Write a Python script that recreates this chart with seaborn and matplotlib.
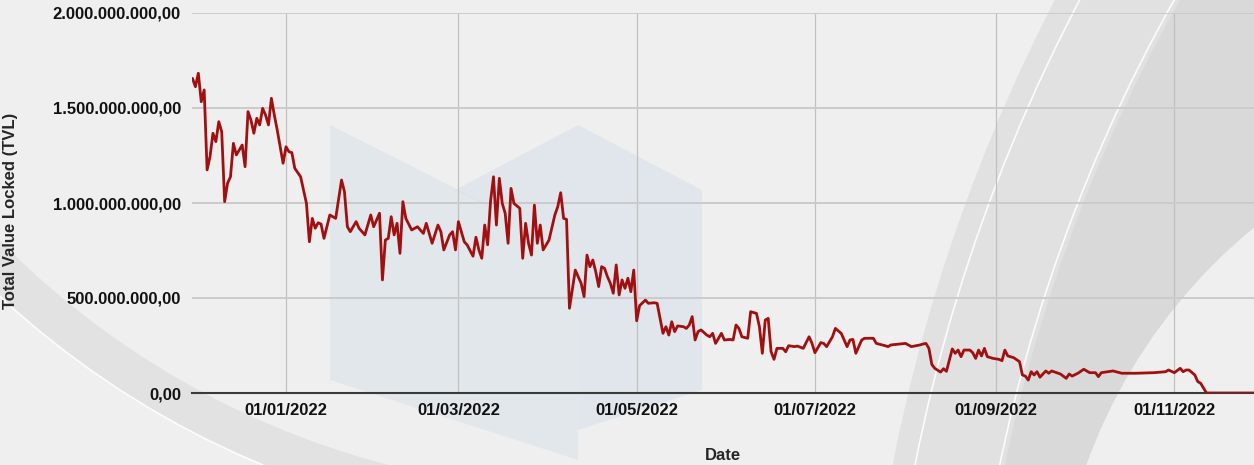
import pandas as pd
import matplotlib.pyplot as plt
import matplotlib.dates as mdates
from matplotlib.ticker import FuncFormatter, MultipleLocator
from matplotlib.patches import Polygon, Circle, Wedge, Arc
from matplotlib.transforms import Affine2D
import seaborn as sns

# ------------------------------------------------------------
# Data: TVL in millions, day offsets counted from 01/01/2022
# ------------------------------------------------------------
start_date = "2022-01-01"

day_offset = [
    -32, -31, -30, -29, -28, -27, -26, -25, -24, -23, -22, -21, -20, -19, -18,
    -17, -16, -15, -14, -13, -12, -11, -10, -9, -8, -7, -6, -5, -4, -3, -1,
    0, 1, 2, 3, 5, 6, 7, 8, 9, 10, 11, 12, 13, 15, 17, 19, 20, 21, 22, 24, 25,
    27, 29, 30, 32, 33, 34, 35, 36, 37, 38, 39, 40, 41, 43, 45, 47, 48, 50, 52,
    53, 54, 56, 57, 58, 59, 61, 62, 64, 65, 66, 67, 68, 69, 70, 71, 72, 73, 74,
    75, 76, 77, 78, 80, 81, 82, 83, 84, 85, 86, 87, 88, 90, 92, 93, 94, 95, 96,
    97, 99, 101, 102, 103, 104, 105, 106, 107, 108, 109, 110, 111, 112, 113,
    114, 115, 116, 117, 118, 119, 120, 121, 123, 124, 126, 127, 129, 130, 131,
    132, 133, 134, 136, 137, 138, 139, 140, 141, 142, 144, 145, 146, 147, 149,
    150, 152, 153, 154, 155, 156, 158, 159, 161, 162, 163, 164, 165, 166, 167,
    168, 170, 171, 172, 174, 175, 177, 179, 180, 181, 183, 184, 185, 187, 188,
    190, 192, 193, 194, 195, 197, 198, 201, 202, 205, 206, 207, 210, 212, 214,
    217, 218, 219, 220, 221, 222, 224, 225, 226, 228, 229, 230, 231, 232, 234,
    235, 236, 237, 238, 239, 240, 242, 244, 245, 246, 247, 249, 251, 252, 253,
    254, 255, 256, 257, 258, 260, 261, 262, 265, 267, 268, 269, 271, 273, 275,
    277, 278, 279, 283, 286, 291, 297, 301, 302, 304, 306, 307, 308, 309, 311,
    312, 313, 315, 333,
]

tvl_millions = [
    1656, 1612, 1683, 1533, 1595, 1174, 1244, 1367, 1323, 1428, 1375, 1007, 1104, 1138, 1314,
    1253, 1279, 1305, 1191, 1481, 1437, 1367, 1446, 1411, 1498, 1463, 1411, 1551, 1463, 1384, 1209,
    1296, 1270, 1265, 1183, 1138, 1068, 998, 796, 919, 867, 896, 889, 814, 937, 919, 1121, 1060, 875, 849, 902, 867,
    832, 937, 875, 946, 595, 805, 814, 928, 832, 893, 735, 1007, 919, 858, 875, 840, 893, 788, 884,
    849, 753, 832, 849, 753, 902, 796, 779, 720, 820, 753, 709, 884, 780, 1010, 1138, 884, 1130, 998,
    946, 788, 1077, 998, 972, 709, 893, 788, 726, 989, 788, 884, 753, 805, 937, 981, 1054, 919, 914,
    446, 647, 577, 507, 726, 665, 700, 638, 560, 665, 656, 612, 577, 525, 674,
    516, 595, 551, 604, 533, 647, 380, 460, 489, 472, 475, 472, 314, 349, 305,
    375, 323, 353, 349, 340, 358, 402, 279, 323, 332, 305, 296, 314, 261, 314,
    279, 282, 279, 358, 340, 296, 288, 428, 419, 349, 209, 384, 393, 217, 177,
    235, 235, 217, 249, 244, 247, 235, 296, 261, 212, 265, 261, 244, 296, 340,
    314, 244, 279, 282, 209, 279, 288, 288, 261, 249, 244, 253, 258, 261, 244,
    253, 258, 261, 235, 150, 130, 110, 128, 114, 232, 209, 226, 191, 226, 226,
    212, 182, 226, 195, 235, 191, 182, 177, 170, 226, 195, 186, 165, 95, 89,
    68, 112, 95, 112, 83, 116, 104, 116, 100, 77, 100, 89, 104, 125, 107,
    107, 86, 107, 116, 104, 104, 107, 112, 121, 107, 130, 112, 121, 121, 95,
    60, 51, 0, 0,
]

tick_dates = ["2022-01-01", "2022-03-01", "2022-05-01", "2022-07-01", "2022-09-01", "2022-11-01"]

df = pd.DataFrame({
    "Date": pd.Timestamp(start_date) + pd.to_timedelta(day_offset, unit="D"),
    "TVL": [v * 1e6 for v in tvl_millions],
})

# ------------------------------------------------------------
# Style
# ------------------------------------------------------------
sns.set_style("white")
plt.rcParams["font.family"] = ["Liberation Sans", "DejaVu Sans"]
plt.rcParams["font.weight"] = "bold"

W, H = 1254, 465
fig = plt.figure(figsize=(W / 100, H / 100), dpi=100, facecolor="#efefef")

# pixel coords measured from the top-left corner
pix = Affine2D().scale(1, -1).translate(0, H)


def deco(patch, z):
    patch.set_transform(pix)
    patch.set_zorder(z)
    fig.patches.append(patch)


# background swooshes (lower-left band)
deco(Wedge((600, -350), 882, 100, 170, width=40, facecolor="#dadada", edgecolor="none", alpha=0.6), -5)
deco(Arc((600, -350), 1764, 1764, theta1=100, theta2=170, color="white", lw=1.2, alpha=0.9), -4)

# background swooshes (upper-right)
deco(Circle((2600, 800), 1740, facecolor="#dcdcdc", edgecolor="none", alpha=0.7), -5)
deco(Circle((2600, 800), 1630, facecolor="#d3d3d3", edgecolor="none", alpha=0.5), -5)
deco(Circle((2600, 800), 1718, fill=False, edgecolor="white", lw=1.2, alpha=0.9), -4)
deco(Circle((2600, 800), 1635, fill=False, edgecolor="white", lw=1.2, alpha=0.9), -4)
deco(Circle((1600, 650), 546, facecolor="#f2f2f2", edgecolor="none", alpha=0.9), -4)

# faint logo watermark
logo_left = [(330, 125), (578, 250), (578, 460), (330, 380)]
logo_right = [(455, 190), (578, 125), (702, 190), (702, 390), (578, 430), (578, 250)]
for shape, a in [(logo_left, 0.45), (logo_right, 0.5)]:
    deco(Polygon(shape, closed=True, facecolor="#d4dfea", edgecolor="none", alpha=a), -3)

ax = fig.add_axes([192 / W, (H - 393) / H, (W - 192) / W, 380 / H])
ax.patch.set_alpha(0)

sns.lineplot(data=df, x="Date", y="TVL", ax=ax, color="#a11010", linewidth=2.0, zorder=5)

ax.set_ylim(0, 2e9)
ax.set_xlim(pd.Timestamp("2021-11-29 20:00"), pd.Timestamp("2022-11-28 06:00"))
ax.yaxis.set_major_locator(MultipleLocator(5e8))
ax.yaxis.set_major_formatter(
    FuncFormatter(lambda v, _: f"{v:,.2f}".replace(",", "X").replace(".", ",").replace("X", "."))
)
ax.set_xticks(pd.to_datetime(tick_dates))
ax.xaxis.set_major_formatter(mdates.DateFormatter("%d/%m/%Y"))

ax.grid(axis="y", color="#cbcbcb", linewidth=1.4)
ax.grid(axis="x", color="#c0c0c0", linewidth=0.9)
ax.set_axisbelow(True)

for side in ["top", "right", "left"]:
    ax.spines[side].set_visible(False)
ax.spines["bottom"].set_color("#3a3a3a")
ax.spines["bottom"].set_linewidth(1.5)

ax.tick_params(axis="both", length=0, labelsize=12, colors="#111111")
ax.tick_params(axis="y", pad=8)
ax.tick_params(axis="x", pad=7)

ax.set_xlabel("Date", fontsize=12, fontweight="bold")
ax.set_ylabel("Total Value Locked (TVL)", fontsize=12, fontweight="bold")
ax.xaxis.set_label_coords(0.5, -0.145)
ax.yaxis.set_label_coords(-0.164, 0.48)

fig.savefig("out.png", dpi=100, facecolor=fig.get_facecolor())
